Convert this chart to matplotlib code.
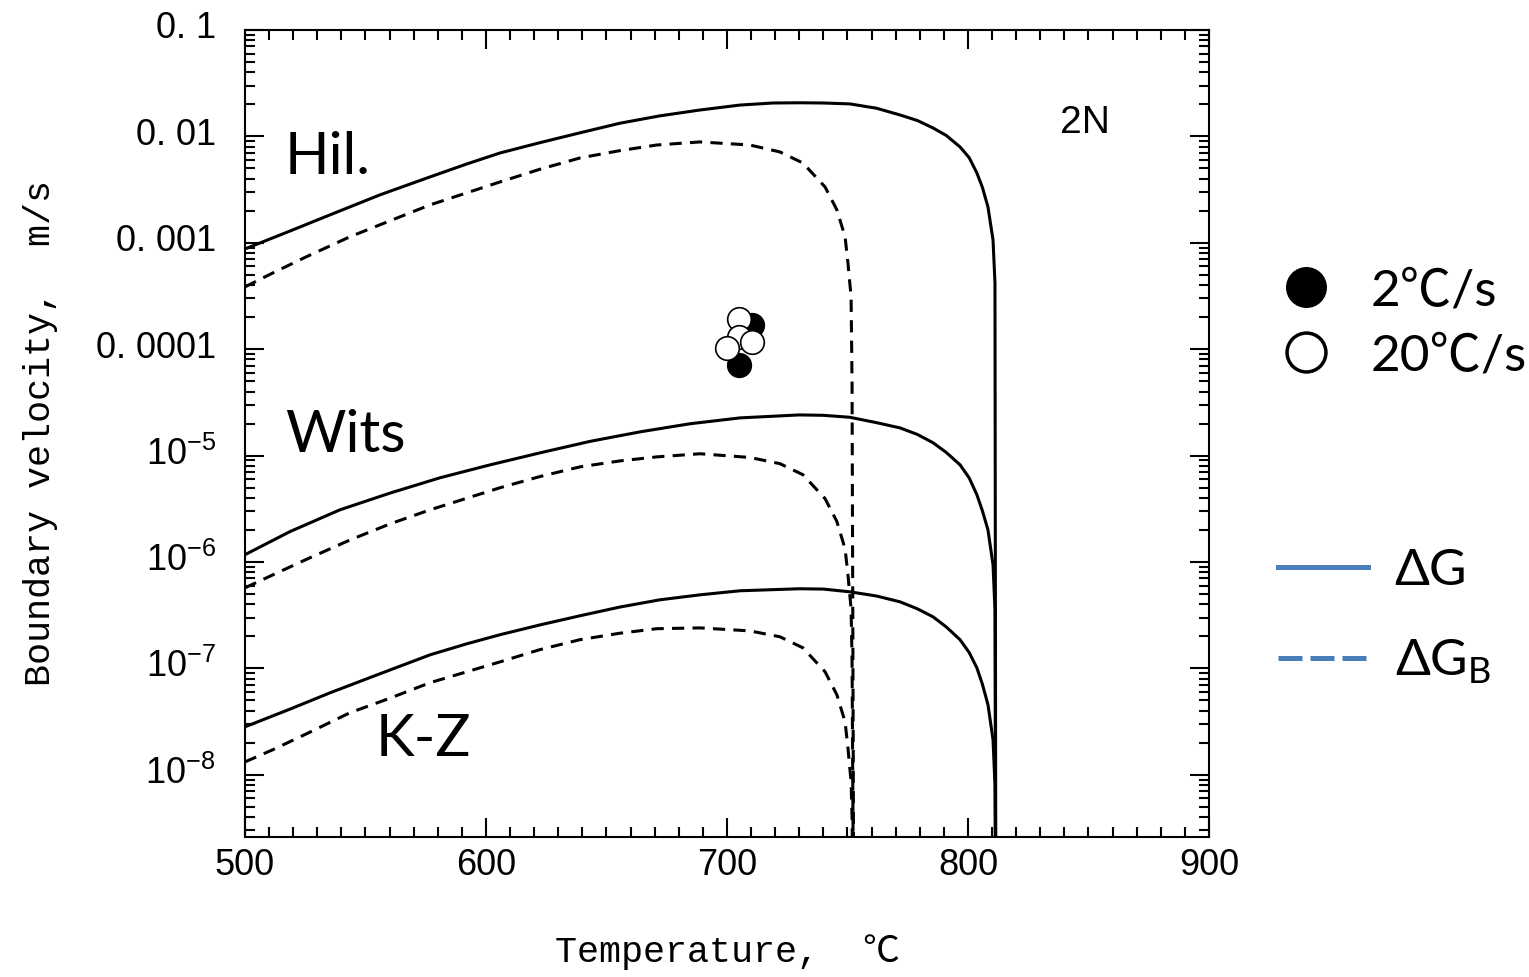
import numpy as np
import matplotlib
matplotlib.use("Agg")
import matplotlib.pyplot as plt
import matplotlib.transforms as mtransforms
from matplotlib import font_manager
from matplotlib.lines import Line2D
from matplotlib.ticker import MultipleLocator, LogLocator, NullFormatter

# ---- data (temperature in C, velocity in m/s) ----
hil_solid_t = [500.0, 518.7, 535.3, 556.0, 576.8, 592.0, 605.8, 622.4, 639.0, 655.6, 672.2,
               688.8, 705.4, 719.1, 730.0, 740.0, 751.0, 762.0, 771.8, 779.0, 785.5,
               791.0, 796.7, 800.5, 803.7, 806.0, 808.3, 810.4, 811.2, 811.6]
hil_solid_v = [8.75e-4, 1.29e-3, 1.83e-3, 2.82e-3, 4.16e-3, 5.50e-3, 6.98e-3, 8.73e-3, 1.08e-2, 1.33e-2, 1.56e-2,
               1.77e-2, 1.97e-2, 2.06e-2, 2.07e-2, 2.06e-2, 2.02e-2, 1.84e-2, 1.59e-2, 1.41e-2, 1.20e-2,
               1.02e-2, 7.96e-3, 6.31e-3, 4.53e-3, 3.31e-3, 2.17e-3, 1.06e-3, 4.20e-4, 1e-10]

wits_solid_t = [500.0, 518.7, 539.4, 560.2, 580.9, 601.7, 622.4, 643.2, 663.9, 684.6,
                705.4, 730.0, 740.0, 751.0, 762.0, 771.8, 779.0, 785.5, 791.0, 796.7,
                800.5, 803.7, 806.0, 808.3, 810.4, 811.2, 811.6]
wits_solid_v = [1.17e-6, 1.93e-6, 3.09e-6, 4.44e-6, 6.18e-6, 8.18e-6, 1.06e-5, 1.36e-5, 1.67e-5, 1.99e-5,
                2.26e-5, 2.41e-5, 2.39e-5, 2.29e-5, 2.04e-5, 1.82e-5, 1.58e-5, 1.32e-5, 1.07e-5, 8.19e-6,
                6.17e-6, 4.28e-6, 3.02e-6, 2.00e-6, 9.40e-7, 3.55e-7, 1e-10]

kz_solid_t = [500.0, 518.7, 535.3, 556.0, 576.8, 592.0, 605.8, 622.4, 639.0, 655.6, 672.2,
              688.8, 705.4, 730.0, 740.0, 751.0, 762.0, 771.8, 779.0, 785.5, 791.0,
              796.7, 800.5, 803.7, 806.0, 808.3, 810.4, 811.2, 811.6]
kz_solid_v = [2.82e-8, 4.14e-8, 5.89e-8, 8.89e-8, 1.34e-7, 1.70e-7, 2.07e-7, 2.56e-7, 3.12e-7, 3.77e-7, 4.41e-7,
              4.91e-7, 5.36e-7, 5.60e-7, 5.56e-7, 5.24e-7, 4.79e-7, 4.22e-7, 3.63e-7, 3.05e-7, 2.45e-7,
              1.86e-7, 1.41e-7, 1.01e-7, 7.08e-8, 4.55e-8, 2.13e-8, 8.05e-9, 1e-10]

dashed_t = [500.0, 511.6, 525.6, 543.6, 560.2, 576.8, 605.8, 622.4, 639.0, 655.6, 670.9,
            688.8, 709.5, 722.0, 731.5, 740.7, 745.6, 749.0, 750.2, 751.5, 751.9, 752.7]
hil_dashed_v = [3.85e-4, 5.21e-4, 7.41e-4, 1.14e-3, 1.61e-3, 2.27e-3, 3.73e-3, 4.91e-3, 6.27e-3, 7.35e-3, 8.30e-3,
                8.87e-3, 8.30e-3, 7.14e-3, 5.62e-3, 3.35e-3, 2.04e-3, 1.14e-3, 6.47e-4, 3.10e-4, 4.82e-5, 1e-10]
wits_dashed_v = [5.71e-7, 7.57e-7, 1.06e-6, 1.61e-6, 2.28e-6, 3.09e-6, 4.98e-6, 6.35e-6, 7.83e-6, 8.91e-6, 9.72e-6,
                 1.04e-5, 9.60e-6, 8.39e-6, 6.61e-6, 3.94e-6, 2.40e-6, 1.33e-6, 7.60e-7, 3.63e-7, 1.2e-7, 1e-10]
kz_dashed_v = [1.32e-8, 1.72e-8, 2.43e-8, 3.83e-8, 5.25e-8, 7.33e-8, 1.15e-7, 1.50e-7, 1.86e-7, 2.14e-7, 2.36e-7,
               2.40e-7, 2.25e-7, 1.98e-7, 1.56e-7, 9.29e-8, 5.65e-8, 3.15e-8, 1.79e-8, 8.6e-9, 4.0e-9, 1e-10]

# measured points
rate2_t = [710.2, 705.1]
rate2_v = [1.69e-4, 7.1e-5]
rate20_t = [705.1, 705.1, 710.2, 700.1]
rate20_v = [1.91e-4, 1.31e-4, 1.18e-4, 1.02e-4]

x_ticks = [500, 600, 700, 800, 900]
y_ticks = [1e-8, 1e-7, 1e-6, 1e-5, 1e-4, 1e-3, 1e-2, 1e-1]
y_tick_labels = [r"$\mathregular{10^{-8}}$", r"$\mathregular{10^{-7}}$", r"$\mathregular{10^{-6}}$",
                 r"$\mathregular{10^{-5}}$", "0. 0001", "0. 001", "0. 01", "0. 1"]

# ---- fonts ----
names = {f.name for f in font_manager.fontManager.ttflist}
tick_font = "Liberation Sans Narrow" if "Liberation Sans Narrow" in names else "Liberation Sans"
tick_size = 28 if tick_font == "Liberation Sans Narrow" else 26
label_font = ["Liberation Mono", "Noto Sans CJK JP"]
text_font = ["Lato", "Noto Sans CJK JP", "DejaVu Sans"]

fig = plt.figure(figsize=(15.29, 9.77), dpi=100)
ax = fig.add_axes([0.1602, 0.1433, 0.6305, 0.826])
ax.set_yscale("log")

lw = 2.2
dash = (0, (4, 2.7))
for t, v in [(hil_solid_t, hil_solid_v), (wits_solid_t, wits_solid_v), (kz_solid_t, kz_solid_v)]:
    ax.plot(t, v, color="black", lw=lw, solid_joinstyle="round")
for v in [hil_dashed_v, wits_dashed_v, kz_dashed_v]:
    ax.plot(dashed_t, v, color="black", lw=lw, ls=dash)

ax.plot(rate2_t, rate2_v, "o", ls="none", ms=17, mfc="black", mec="black", mew=1.2, zorder=3)
ax.plot(rate20_t, rate20_v, "o", ls="none", ms=17, mfc="white", mec="black", mew=1.2, zorder=4)

ax.set_xlim(500, 900)
ax.set_ylim(2.6e-9, 0.1)

ax.set_xticks(x_ticks)
ax.xaxis.set_minor_locator(MultipleLocator(10))
ax.set_yticks(y_ticks, y_tick_labels)
ax.yaxis.set_minor_locator(LogLocator(base=10, subs=np.arange(2, 10), numticks=30))
ax.yaxis.set_minor_formatter(NullFormatter())
ax.tick_params(which="both", direction="in", top=True, right=True, width=1.5)
ax.tick_params(which="major", length=14)
ax.tick_params(which="minor", length=7.5)
ax.tick_params(axis="y", pad=21, labelsize=tick_size)
ax.tick_params(axis="x", pad=8, labelsize=tick_size)
shift_up = mtransforms.ScaledTranslation(0, 5 / 100, fig.dpi_scale_trans)
for lbl in ax.get_xticklabels():
    lbl.set_fontfamily(tick_font)
for lbl in ax.get_yticklabels():
    lbl.set_fontfamily(tick_font)
    lbl.set_transform(lbl.get_transform() + shift_up)
for sp in ax.spines.values():
    sp.set_linewidth(1.5)

ax.set_xlabel("Temperature,  ℃", fontsize=26.5, family=label_font)
ax.set_ylabel("Boundary velocity,  m/s", fontsize=26.5, family=label_font)
ax.xaxis.set_label_coords(0.5, -0.121)
ax.yaxis.set_label_coords(-0.194, 0.5)

ax.text(516.6, 6.4e-3, "Hil.", fontsize=42, family=text_font, ha="left", va="center")
ax.text(516.6, 1.53e-5, "Wits", fontsize=42, family=text_font, ha="left", va="center")
ax.text(554.4, 2.13e-8, "K-Z", fontsize=42, family=text_font, ha="left", va="center")
ax.text(848.5, 1.34e-2, "2N", fontsize=28, family=tick_font, ha="center", va="center")

# legends outside the axes
mark_handles = [
    Line2D([], [], marker="o", ls="none", ms=28, mfc="black", mec="black", mew=1.5),
    Line2D([], [], marker="o", ls="none", ms=28, mfc="white", mec="black", mew=2.5),
]
fig.legend(mark_handles, ["2℃/s", "20℃/s"], loc="center left",
           bbox_to_anchor=(0.8407, 0.6684), frameon=False, borderpad=0,
           borderaxespad=0, handlelength=0.8, handletextpad=0.85,
           labelspacing=0.37, prop={"family": text_font, "size": 37})

blue = "#4a7ebb"
line_handles = [
    Line2D([], [], color=blue, lw=3.6),
    Line2D([], [], color=blue, lw=3.6, ls=(0, (4.8, 1.6))),
]
fig.legend(line_handles, ["ΔG", r"ΔG$_\mathregular{B}$"], loc="center left",
           bbox_to_anchor=(0.8358, 0.3685), frameon=False, borderpad=0,
           borderaxespad=0, handlelength=1.75, handletextpad=0.52,
           labelspacing=0.85, prop={"family": text_font, "size": 37})

fig.savefig("out.png", dpi=100)
